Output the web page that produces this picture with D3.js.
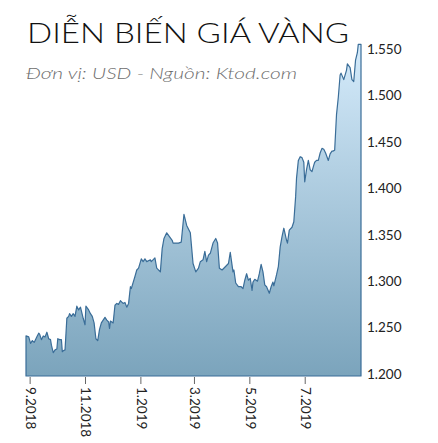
<!DOCTYPE html>
<html>
<head>
<meta charset="utf-8">
<script src="https://cdn.jsdelivr.net/npm/d3@7"></script>
<style>
  html, body { margin: 0; padding: 0; background: #fff; }
  svg { display: block; }
</style>
</head>
<body>
<svg id="chart"></svg>
<script>
const title = "DIỄN BIẾN GIÁ VÀNG";
const subtitle = "Đơn vị: USD - Nguồn: Ktod.com";

const dates = [
  "2018-08-28","2018-08-31","2018-09-02","2018-09-04","2018-09-06","2018-09-09","2018-09-11","2018-09-12",
  "2018-09-14","2018-09-16","2018-09-18","2018-09-20","2018-09-22","2018-09-24","2018-09-25","2018-09-27",
  "2018-09-29","2018-10-01","2018-10-02","2018-10-04","2018-10-06","2018-10-07","2018-10-08","2018-10-10",
  "2018-10-12","2018-10-14","2018-10-15","2018-10-17","2018-10-19","2018-10-21","2018-10-23","2018-10-25",
  "2018-10-27","2018-10-28","2018-10-30","2018-11-01","2018-11-02","2018-11-05","2018-11-07","2018-11-09",
  "2018-11-11","2018-11-13","2018-11-15","2018-11-17","2018-11-19","2018-11-21","2018-11-23","2018-11-25",
  "2018-11-27","2018-11-28","2018-11-29","2018-12-02","2018-12-04","2018-12-06","2018-12-08","2018-12-10",
  "2018-12-11","2018-12-13","2018-12-15","2018-12-17","2018-12-19","2018-12-21","2018-12-22","2018-12-26",
  "2018-12-28","2018-12-30","2019-01-02","2019-01-04","2019-01-06","2019-01-08","2019-01-12","2019-01-13",
  "2019-01-17","2019-01-19","2019-01-23","2019-01-25","2019-01-27","2019-01-30","2019-02-02","2019-02-05",
  "2019-02-06","2019-02-12","2019-02-15","2019-02-18","2019-02-21","2019-02-25","2019-02-28","2019-03-03",
  "2019-03-06","2019-03-08","2019-03-11","2019-03-13","2019-03-15","2019-03-17","2019-03-19","2019-03-22",
  "2019-03-25","2019-03-27","2019-03-29","2019-04-01","2019-04-04","2019-04-08","2019-04-10","2019-04-13",
  "2019-04-14","2019-04-16","2019-04-19","2019-04-22","2019-04-24","2019-04-26","2019-04-28","2019-04-30",
  "2019-05-02","2019-05-04","2019-05-05","2019-05-07","2019-05-10","2019-05-12","2019-05-14","2019-05-16",
  "2019-05-18","2019-05-20","2019-05-23","2019-05-25","2019-05-27","2019-05-28","2019-05-31","2019-06-02",
  "2019-06-04","2019-06-06","2019-06-08","2019-06-11","2019-06-12","2019-06-14","2019-06-17","2019-06-19",
  "2019-06-21","2019-06-22","2019-06-24","2019-06-26","2019-06-28","2019-06-30","2019-07-01","2019-07-03",
  "2019-07-05","2019-07-07","2019-07-09","2019-07-11","2019-07-12","2019-07-14","2019-07-16","2019-07-18",
  "2019-07-20","2019-07-22","2019-07-24","2019-07-27","2019-07-29","2019-07-31","2019-08-01","2019-08-03",
  "2019-08-05","2019-08-07","2019-08-09","2019-08-10","2019-08-13","2019-08-16","2019-08-17","2019-08-20",
  "2019-08-22","2019-08-24","2019-08-26","2019-08-28","2019-08-29","2019-09-01"
];

const prices = [
  1241,1240,1233,1236,1234,1240,1244,1243,1237,1241,1240,1245,1238,1237,1231,1223,
  1226,1227,1238,1237,1237,1224,1225,1226,1260,1262,1265,1262,1265,1262,1273,1269,
  1272,1268,1260,1253,1273,1269,1265,1262,1255,1238,1236,1248,1255,1258,1261,1258,
  1256,1249,1257,1255,1274,1276,1275,1279,1278,1276,1277,1272,1276,1294,1292,1305,
  1312,1314,1324,1321,1324,1321,1323,1321,1325,1314,1310,1335,1346,1352,1348,1344,
  1341,1341,1342,1372,1360,1352,1319,1310,1314,1321,1323,1332,1321,1328,1330,1341,
  1346,1341,1314,1312,1315,1319,1331,1310,1312,1298,1294,1294,1292,1301,1308,1301,
  1303,1290,1299,1302,1300,1308,1318,1310,1296,1294,1287,1294,1299,1295,1307,1316,
  1337,1348,1357,1344,1341,1355,1358,1364,1391,1411,1430,1434,1433,1428,1407,1420,
  1430,1420,1418,1425,1428,1430,1430,1438,1443,1442,1438,1430,1437,1440,1440,1441,
  1479,1498,1522,1524,1517,1527,1534,1530,1517,1515,1538,1546,1555,1555
];

const yTicks = [1200, 1250, 1300, 1350, 1400, 1450, 1500, 1550];
const xTicks = ["2018-09-01", "2018-11-01", "2019-01-01", "2019-03-01", "2019-05-01", "2019-07-01"];

const width = 438;
const height = 443;
const plot = { left: 26, right: 361, top: 44, bottom: 376 };

const parseDate = d3.timeParse("%Y-%m-%d");
const data = dates.map((d, i) => ({ date: parseDate(d), price: prices[i] }));

const svg = d3.select("#chart").attr("width", width).attr("height", height);

const x = d3
  .scaleTime()
  .domain([parseDate("2018-08-28"), parseDate("2019-09-01")])
  .range([plot.left, plot.right]);

const y = d3.scaleLinear().domain([1200, 1550]).range([374, 49]);

const defs = svg.append("defs");
const gradient = defs
  .append("linearGradient")
  .attr("id", "goldFill")
  .attr("gradientUnits", "userSpaceOnUse")
  .attr("x1", 0)
  .attr("y1", plot.top)
  .attr("x2", 0)
  .attr("y2", plot.bottom);
gradient.append("stop").attr("offset", "0%").attr("stop-color", "#d5ebfb");
gradient.append("stop").attr("offset", "100%").attr("stop-color", "#7ba4bc");

const area = d3
  .area()
  .x((d) => x(d.date))
  .y0(plot.bottom)
  .y1((d) => y(d.price));

svg.append("path")
  .datum(data)
  .attr("fill", "url(#goldFill)")
  .attr("stroke", "#3a6d98")
  .attr("stroke-width", 1.2)
  .attr("stroke-linejoin", "round")
  .attr("d", area);

// right value axis
const fmt = d3.formatLocale({ decimal: ",", thousands: ".", grouping: [3], currency: ["", ""] }).format(",");
const yAxis = svg
  .append("g")
  .attr("transform", `translate(${plot.right},0)`)
  .call(d3.axisRight(y).tickValues(yTicks).tickFormat(fmt).tickSize(0).tickPadding(6));
yAxis.select(".domain").remove();
yAxis.selectAll("text")
  .style("font-family", "Lato, 'Noto Sans', sans-serif")
  .style("font-size", "13.5px")
  .style("fill", "#222");

// bottom month axis
const xAxis = svg
  .append("g")
  .attr("transform", `translate(0,${plot.bottom + 1})`)
  .call(
    d3.axisBottom(x)
      .tickValues(xTicks.map(parseDate))
      .tickFormat((d) => `${d.getMonth() + 1}.${d.getFullYear()}`)
      .tickSize(7)
  );
xAxis.select(".domain").remove();
xAxis.selectAll(".tick line").attr("stroke", "#666");
xAxis.selectAll("text")
  .attr("transform", "rotate(90)")
  .attr("x", 10)
  .attr("y", 0)
  .attr("dy", "0.32em")
  .style("text-anchor", "start")
  .style("font-family", "Lato, 'Noto Sans', sans-serif")
  .style("font-size", "13.5px")
  .style("fill", "#222");

svg.append("text")
  .attr("x", 27)
  .attr("y", 43)
  .attr("textLength", 322)
  .attr("lengthAdjust", "spacingAndGlyphs")
  .style("font-family", "Lato, 'Noto Sans', sans-serif")
  .style("font-weight", 300)
  .style("font-size", "28px")
  .style("fill", "#111")
  .text(title);

svg.append("text")
  .attr("x", 26)
  .attr("y", 79)
  .attr("textLength", 271)
  .attr("lengthAdjust", "spacingAndGlyphs")
  .style("font-family", "Lato, 'Noto Sans', sans-serif")
  .style("font-style", "italic")
  .style("font-weight", 300)
  .style("font-size", "15.5px")
  .style("fill", "#6e6e6e")
  .text(subtitle);
</script>
</body>
</html>
